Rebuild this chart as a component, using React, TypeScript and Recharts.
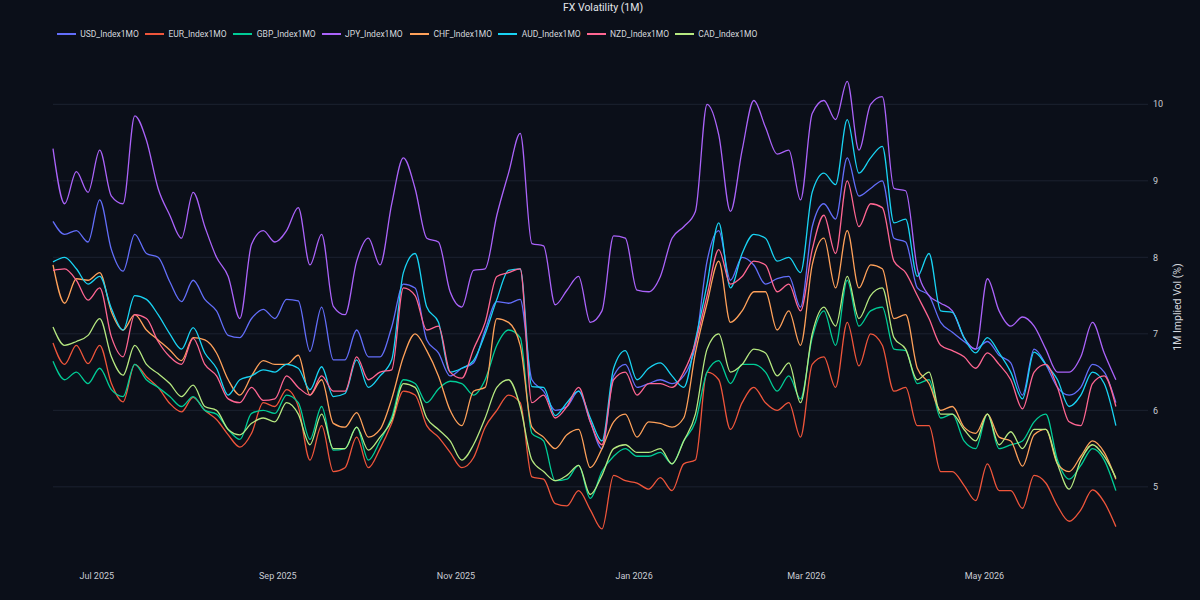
import React from 'react';
import { LineChart, Line, XAxis, YAxis, CartesianGrid } from 'recharts';

// sampled every 4 days, first point 16 Jun 2025
const START = Date.UTC(2025, 5, 16);
const END = Date.UTC(2026, 5, 26);
const STEP = 4 * 86400000;

const seriesNames = [
  'USD_Index1MO', 'EUR_Index1MO', 'GBP_Index1MO', 'JPY_Index1MO',
  'CHF_Index1MO', 'AUD_Index1MO', 'NZD_Index1MO', 'CAD_Index1MO',
];
const seriesColors = ['#636efa', '#ef553b', '#00cc96', '#ab63fa', '#ffa15a', '#19d3f3', '#ff6692', '#b6e880'];

const usd = [8.47, 8.3, 8.35, 8.2, 8.75, 8.1, 7.82, 8.3, 8.05, 8.0, 7.68, 7.42, 7.7, 7.45, 7.3, 6.98,
  6.95, 7.2, 7.32, 7.2, 7.45, 7.43, 6.77, 7.35, 6.66, 6.66, 7.05, 6.7, 6.7, 7.09,
  7.65, 7.6, 6.92, 6.75, 6.45, 6.55, 6.62, 7.05, 7.42, 7.4, 7.45, 6.4, 6.25, 6.0, 6.05, 6.25,
  5.85, 5.5, 6.45, 6.6, 6.3, 6.35, 6.4, 6.35, 6.45, 6.85, 7.95, 8.35, 7.7, 8.0, 7.9,
  7.65, 7.72, 7.75, 7.35, 8.4, 8.7, 8.5, 9.3, 8.8, 8.9, 9.0, 8.25, 8.2, 7.6, 7.5,
  7.15, 7.02, 6.9, 6.8, 6.9, 6.72, 6.62, 6.2, 6.8, 6.6, 6.3, 6.2, 6.3, 6.6, 6.5, 6.1];

const eur = [6.88, 6.6, 6.85, 6.61, 6.85, 6.35, 6.11, 6.6, 6.44, 6.3, 6.09, 5.98, 6.17, 6.0, 5.88, 5.68,
  5.52, 5.7, 6.1, 6.05, 6.27, 6.05, 5.35, 5.8, 5.2, 5.25, 5.65, 5.25, 5.5, 5.83,
  6.25, 6.2, 5.8, 5.65, 5.45, 5.25, 5.38, 5.78, 6.0, 6.2, 6.1, 5.13, 5.1, 4.78, 4.75, 4.95,
  4.7, 4.45, 5.15, 5.08, 5.05, 4.97, 5.12, 4.95, 5.3, 5.35, 6.5, 6.4, 5.75, 6.1, 6.3,
  6.1, 6.0, 6.1, 5.65, 6.6, 6.7, 6.3, 7.15, 6.58, 7.0, 6.85, 6.25, 6.3, 5.8, 5.8,
  5.2, 5.2, 5.02, 4.82, 5.3, 4.95, 4.95, 4.72, 5.15, 5.05, 4.75, 4.55, 4.7, 4.96, 4.8, 4.48];

const gbp = [6.64, 6.4, 6.5, 6.35, 6.55, 6.27, 6.18, 6.6, 6.4, 6.3, 6.18, 6.05, 6.18, 6.0, 5.95, 5.75,
  5.62, 5.96, 6.0, 5.96, 6.2, 6.1, 5.62, 6.05, 5.48, 5.5, 5.78, 5.35, 5.6, 5.91,
  6.4, 6.35, 6.1, 6.28, 6.38, 6.35, 6.2, 6.4, 6.85, 7.05, 6.95, 5.7, 5.6, 5.08, 5.1, 5.28,
  4.85, 5.2, 5.4, 5.5, 5.4, 5.4, 5.45, 5.3, 5.6, 5.85, 6.5, 6.65, 6.35, 6.6, 6.6,
  6.5, 6.25, 6.45, 6.15, 6.95, 7.3, 6.85, 7.7, 7.1, 7.3, 7.35, 6.8, 6.78, 6.35, 6.4,
  5.9, 5.95, 5.6, 5.5, 5.95, 5.5, 5.55, 5.6, 5.85, 5.95, 5.35, 5.1, 5.28, 5.5, 5.35, 4.95];

const jpy = [9.42, 8.7, 9.12, 8.85, 9.4, 8.8, 8.7, 9.85, 9.53, 8.9, 8.55, 8.25, 8.85, 8.4, 8.0, 7.75,
  7.2, 8.17, 8.35, 8.2, 8.35, 8.65, 7.9, 8.3, 7.36, 7.25, 7.95, 8.25, 7.9, 8.7,
  9.3, 8.9, 8.25, 8.2, 7.55, 7.35, 7.83, 7.85, 8.55, 9.1, 9.62, 8.18, 8.15, 7.38, 7.57, 7.75,
  7.15, 7.3, 8.28, 8.25, 7.57, 7.55, 7.75, 8.25, 8.4, 8.6, 10.0, 9.6, 8.6, 9.4, 10.05,
  9.7, 9.35, 9.4, 8.75, 9.88, 10.05, 9.8, 10.3, 9.4, 10.0, 10.1, 8.9, 8.87, 7.85, 7.5,
  7.4, 7.3, 6.95, 6.8, 7.72, 7.3, 7.1, 7.22, 7.1, 6.8, 6.5, 6.5, 6.7, 7.15, 6.75, 6.4];

const chf = [7.9, 7.4, 7.72, 7.7, 7.8, 7.29, 7.05, 7.25, 7.05, 6.92, 6.79, 6.65, 6.95, 6.92, 6.75, 6.4,
  6.2, 6.45, 6.65, 6.6, 6.6, 6.72, 6.2, 6.4, 5.83, 5.78, 5.97, 5.65, 5.75, 6.15,
  6.7, 7.0, 6.78, 6.45, 6.0, 5.8, 6.25, 6.3, 7.2, 7.15, 6.85, 5.78, 5.65, 5.5, 5.68, 5.75,
  5.25, 5.5, 5.85, 5.95, 5.65, 5.85, 5.83, 5.78, 5.9, 6.75, 7.4, 7.95, 7.15, 7.3, 7.55,
  7.55, 7.05, 7.3, 6.85, 7.9, 8.25, 7.6, 8.35, 7.6, 7.9, 7.85, 7.2, 7.25, 6.55, 6.35,
  6.0, 6.05, 5.78, 5.7, 5.95, 5.65, 5.6, 5.27, 5.68, 5.75, 5.3, 5.2, 5.4, 5.6, 5.45, 5.1];

const aud = [7.94, 8.0, 7.85, 7.65, 7.75, 7.33, 7.05, 7.5, 7.45, 7.25, 7.0, 6.8, 7.08, 6.75, 6.55, 6.2,
  6.4, 6.45, 6.53, 6.5, 6.6, 6.55, 6.27, 6.57, 6.18, 6.22, 6.66, 6.3, 6.45, 6.66,
  7.8, 8.05, 7.35, 7.15, 6.5, 6.55, 6.65, 7.0, 7.45, 7.83, 7.85, 6.31, 6.3, 5.93, 6.1, 6.25,
  5.9, 5.6, 6.55, 6.78, 6.4, 6.55, 6.62, 6.45, 6.3, 6.92, 7.65, 8.45, 7.6, 8.05, 8.3,
  8.25, 7.95, 8.0, 7.8, 8.85, 9.1, 8.95, 9.8, 9.1, 9.3, 9.45, 8.45, 8.5, 7.75, 8.05,
  7.3, 7.28, 6.95, 6.75, 6.95, 6.75, 6.5, 6.15, 6.76, 6.6, 6.4, 6.05, 6.2, 6.5, 6.35, 5.8];

const nzd = [7.83, 7.85, 7.7, 7.44, 7.6, 6.96, 6.7, 7.25, 7.2, 6.9, 6.7, 6.6, 6.94, 6.6, 6.45, 6.15,
  6.1, 6.3, 6.13, 6.15, 6.45, 6.3, 6.2, 6.45, 6.25, 6.25, 6.7, 6.4, 6.5, 6.53,
  7.6, 7.5, 7.05, 7.1, 6.5, 6.42, 6.8, 7.15, 7.75, 7.8, 7.85, 6.1, 6.2, 5.9, 6.05, 6.3,
  5.85, 5.55, 6.4, 6.5, 6.2, 6.35, 6.35, 6.3, 6.5, 6.88, 7.5, 8.1, 7.65, 7.75, 7.95,
  7.9, 7.55, 7.65, 7.3, 8.1, 8.55, 8.05, 9.0, 8.4, 8.7, 8.65, 7.95, 7.8, 7.5, 7.2,
  6.85, 6.78, 6.7, 6.55, 6.75, 6.6, 6.4, 6.02, 6.5, 6.6, 6.3, 5.85, 5.8, 6.35, 6.45, 6.05];

const cad = [7.09, 6.85, 6.9, 6.98, 7.2, 6.7, 6.46, 6.85, 6.6, 6.48, 6.35, 6.18, 6.33, 6.05, 6.0, 5.75,
  5.68, 5.83, 5.9, 5.85, 6.1, 5.95, 5.55, 5.95, 5.5, 5.5, 5.78, 5.48, 5.65, 5.87,
  6.35, 6.3, 5.9, 5.75, 5.6, 5.35, 5.55, 5.9, 6.3, 6.4, 6.05, 5.35, 5.2, 5.08, 5.15, 5.28,
  4.9, 5.15, 5.5, 5.55, 5.45, 5.45, 5.5, 5.3, 5.6, 5.95, 6.8, 7.0, 6.5, 6.6, 6.8,
  6.75, 6.45, 6.62, 6.1, 7.0, 7.35, 7.1, 7.75, 7.2, 7.5, 7.6, 6.95, 6.8, 6.4, 6.5,
  5.95, 5.95, 5.75, 5.6, 5.95, 5.55, 5.72, 5.5, 5.75, 5.75, 5.3, 4.97, 5.35, 5.55, 5.4, 5.12];

const seriesValues = [usd, eur, gbp, jpy, chf, aud, nzd, cad];

const tickDates = [
  Date.UTC(2025, 6, 1), Date.UTC(2025, 8, 1), Date.UTC(2025, 10, 1),
  Date.UTC(2026, 0, 1), Date.UTC(2026, 2, 1), Date.UTC(2026, 4, 1),
];
const tickLabels = ['Jul 2025', 'Sep 2025', 'Nov 2025', 'Jan 2026', 'Mar 2026', 'May 2026'];
const yTicks = [5, 6, 7, 8, 9, 10];

const dates = usd.map((_, i) => START + i * STEP);

const data = dates.map((t, i) => {
  const row: any = { t };
  seriesNames.forEach((name, k) => {
    row[name] = seriesValues[k][i];
  });
  return row;
});

const FONT = 'Roboto, "Open Sans", sans-serif';

const App = () => {
  return (
    <div style={{ position: 'absolute', left: 0, top: 0, width: 1200, height: 600, background: '#0b0f19', fontFamily: FONT }}>
      <div style={{ position: 'absolute', top: 2, left: 3, width: 1200, textAlign: 'center', fontSize: 10.5, lineHeight: '12px', color: '#e4e6eb' }}>
        FX Volatility (1M)
      </div>

      {seriesNames.map((name, k) => (
        <div key={name} style={{ position: 'absolute', left: 56.7 + k * 88.3, top: 28, height: 12, width: 86 }}>
          <div style={{ position: 'absolute', left: 0, top: 5, width: 19, height: 2, background: seriesColors[k] }} />
          <div style={{ position: 'absolute', left: 23.5, top: 0, fontSize: 8.5, lineHeight: '12px', color: '#d4d7dd', whiteSpace: 'nowrap' }}>
            {name}
          </div>
        </div>
      ))}

      <div style={{
        position: 'absolute', left: 1177, top: 307, transform: 'translate(-50%, -50%) rotate(-90deg)',
        fontSize: 10.5, color: '#d4d7dd', whiteSpace: 'nowrap',
      }}>
        1M Implied Vol (%)
      </div>

      <LineChart width={1200} height={600} data={data}
        margin={{ top: 58.4, right: 0, bottom: 14.3, left: 53 }}
        style={{ position: 'absolute', left: 0, top: 0 }}>
        <CartesianGrid vertical={false} horizontalValues={yTicks} stroke="#1c2230" strokeWidth={1} />
        <XAxis dataKey="t" type="number" scale="time" domain={[START, END]} ticks={tickDates}
          tickFormatter={(v) => tickLabels[tickDates.indexOf(v)]}
          axisLine={false} tickLine={false} tickSize={0} tickMargin={17} height={30}
          tick={{ fill: '#c9ccd3', fontSize: 9, fontFamily: FONT }} />
        <YAxis orientation="right" type="number" domain={[4.1, 10.6]} ticks={yTicks}
          axisLine={false} tickLine={false} tickSize={0} tickMargin={5} width={52}
          tick={{ fill: '#c9ccd3', fontSize: 9, fontFamily: FONT }} />
        {seriesNames.map((name, k) => (
          <Line key={name} type="monotone" dataKey={name} stroke={seriesColors[k]} strokeWidth={1.3}
            dot={false} activeDot={false} isAnimationActive={false} />
        ))}
      </LineChart>
    </div>
  );
};

export default App;
